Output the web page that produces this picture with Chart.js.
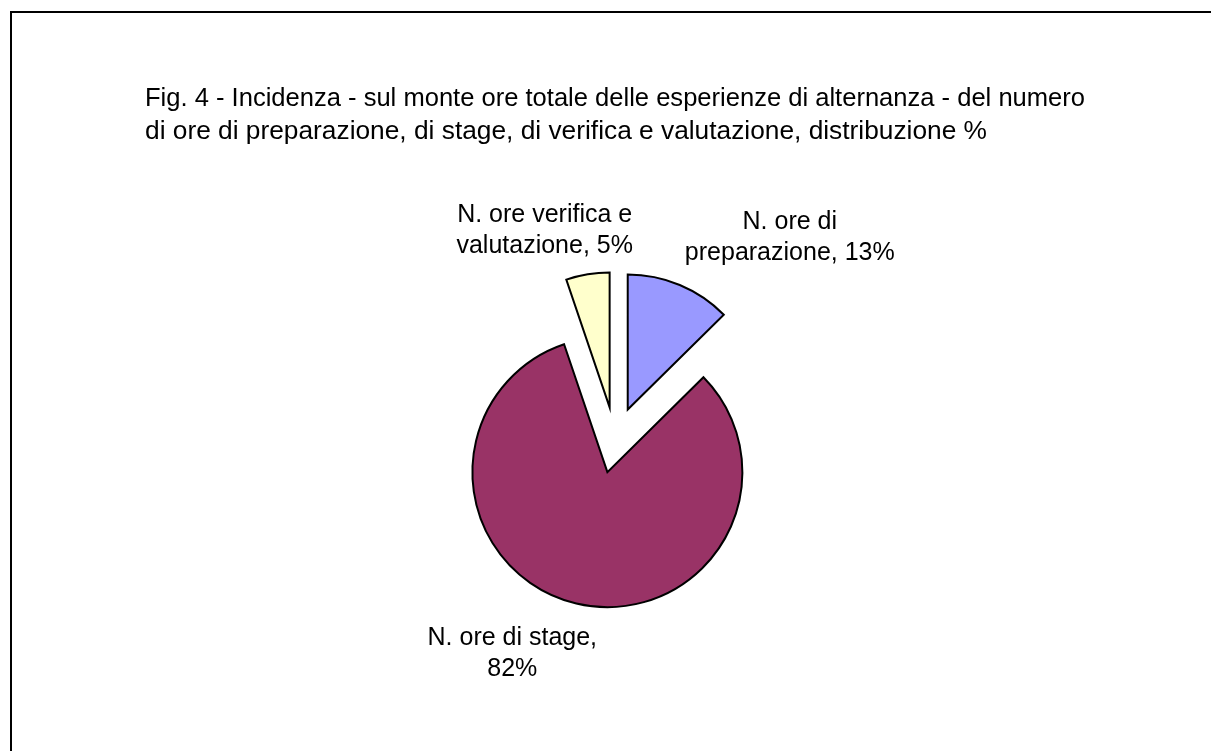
<!DOCTYPE html>
<html>
<head>
<meta charset="utf-8">
<script src="https://cdn.jsdelivr.net/npm/chart.js@4.4.1/dist/chart.umd.min.js"></script>
<style>
  html, body { margin: 0; padding: 0; background: #fff; overflow: hidden; }
  #frame { position: absolute; left: 10px; top: 11px; width: 1400px; height: 1000px;
           border-left: 2px solid #000; border-top: 2px solid #000; }
  #wrap { position: absolute; left: 0; top: 0; width: 1211px; height: 751px; }
</style>
</head>
<body>
<div id="frame"></div>
<div id="wrap"><canvas id="pie-canvas"></canvas></div>
<script>
// data (shares of total hours, labels show them rounded)
var categories = ["N. ore di preparazione", "N. ore di stage", "N. ore verifica e valutazione"];
var shares = [12.6, 82.2, 5.2];
var titleLines = [
  "Fig. 4 - Incidenza - sul monte ore totale delle esperienze di alternanza - del numero",
  "di ore di preparazione, di stage, di verifica e valutazione, distribuzione %"
];

var FONT = "'Liberation Sans', Arial, sans-serif";

// greedy word wrap on measured width
function wrapText(ctx, text, maxWidth) {
  var words = text.split(" ");
  var lines = [];
  var line = "";
  words.forEach(function (w) {
    var test = line ? line + " " + w : w;
    if (line && ctx.measureText(test).width > maxWidth) {
      lines.push(line);
      line = w;
    } else {
      line = test;
    }
  });
  if (line) lines.push(line);
  return lines;
}

// every slice pulled out of the centre, like the excel exploded pie
var explodePlugin = {
  id: "explode",
  beforeDatasetDraw: function (chart, args, opts) {
    var ctx = chart.ctx;
    args.meta.data.forEach(function (arc) {
      var mid = (arc.startAngle + arc.endAngle) / 2;
      ctx.save();
      ctx.translate(Math.cos(mid) * opts.distance, Math.sin(mid) * opts.distance);
      arc.draw(ctx);
      ctx.restore();
    });
    return false;
  }
};

// "category, xx%" labels outside the slices
var labelPlugin = {
  id: "sliceLabels",
  afterDatasetsDraw: function (chart, args, opts) {
    var ctx = chart.ctx;
    var meta = chart.getDatasetMeta(0);
    var values = chart.data.datasets[0].data;
    var total = values.reduce(function (a, b) { return a + b; }, 0);
    ctx.save();
    ctx.font = opts.size + "px " + FONT;
    ctx.fillStyle = "#000";
    ctx.textAlign = "center";
    ctx.textBaseline = "alphabetic";
    meta.data.forEach(function (arc, i) {
      var mid = (arc.startAngle + arc.endAngle) / 2;
      var r = arc.outerRadius + opts.distance;
      var x = arc.x + Math.cos(mid) * r + opts.shift[i][0];
      var y = arc.y + Math.sin(mid) * r + opts.shift[i][1];
      var pct = Math.round(values[i] / total * 100);
      var text = chart.data.labels[i] + ", " + pct + "%";
      wrapText(ctx, text, opts.wrapWidth).forEach(function (line, k) {
        ctx.fillText(line, x, y + k * opts.lineHeight);
      });
    });
    ctx.restore();
  }
};

var chart1 = new Chart(document.getElementById("pie-canvas"), {
  type: "pie",
  data: {
    labels: categories,
    datasets: [{
      data: shares,
      backgroundColor: ["#9999FF", "#993366", "#FFFFCC"],
      borderColor: "#000000",
      borderWidth: 2,
      borderJoinStyle: "miter",
      offset: 0,
      hoverOffset: 0,
      radius: 135
    }]
  },
  options: {
    responsive: true,
    maintainAspectRatio: false,
    animation: false,
    events: [],
    layout: {
      padding: { left: 145, right: 126, top: 0, bottom: 27 }
    },
    plugins: {
      legend: { display: false },
      tooltip: { enabled: false },
      title: {
        display: true,
        align: "start",
        text: titleLines,
        color: "#000",
        font: { family: FONT, size: 26.3, weight: "normal", lineHeight: 1.255 },
        padding: { top: 82, bottom: 8 }
      },
      explode: { distance: 33 },
      sliceLabels: {
        size: 25,
        lineHeight: 31,
        wrapWidth: 215,
        distance: 33,
        shift: [[110, -56], [-64, 42], [-43, -52]]
      }
    }
  },
  plugins: [explodePlugin, labelPlugin]
});
</script>
</body>
</html>
